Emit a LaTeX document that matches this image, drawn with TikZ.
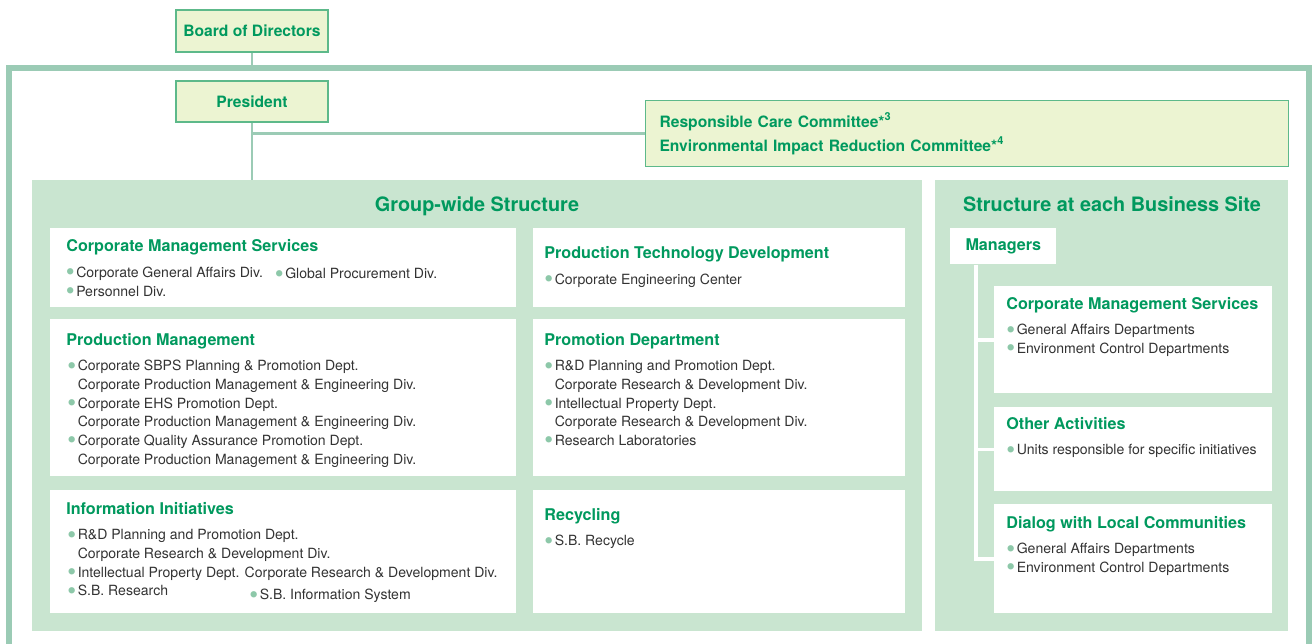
\documentclass[tikz,border=0pt]{standalone}
\usepackage{fontspec}
\setmainfont{TeX Gyre Heros}
\definecolor{framegreen}{HTML}{9BCBB5}
\definecolor{panelgreen}{HTML}{C9E5D0}
\definecolor{paleyellow}{HTML}{ECF4D2}
\definecolor{boxedge}{HTML}{5DB98A}
\definecolor{titlegreen}{HTML}{00995E}
\definecolor{dotgreen}{HTML}{8DC8A9}
\definecolor{bodygray}{HTML}{333333}
\newcommand{\pxu}{0.02cm}
\newcommand{\fstrut}{\rule{0pt}{0.75em}}
\newcommand{\dotmark}{\makebox[0.74em][l]{\smash{\raisebox{-0.23em}{\scalebox{1.8}{\textcolor{dotgreen}{\textbullet}}}}}}
\newcommand{\bl}{\fstrut\dotmark}
\newcommand{\ind}{\fstrut\hspace*{0.74em}}
\begin{document}
\begin{tikzpicture}[
    x=\pxu, y=-\pxu,
    topbox/.style={
        rectangle,
        draw=boxedge,
        fill=paleyellow,
        line width=0.6pt,
        inner sep=0pt,
        font=\bfseries\fontsize{8.9}{13.6}\selectfont,
        text=titlegreen
    },
    panel/.style={rectangle, fill=panelgreen, inner sep=0pt, anchor=north west},
    whitebox/.style={rectangle, fill=white, inner sep=0pt, anchor=north west},
    paneltitle/.style={anchor=base, inner sep=0pt, font=\bfseries\fontsize{11.3}{13}\selectfont, text=titlegreen},
    boxtitle/.style={anchor=base west, inner sep=0pt, font=\bfseries\fontsize{9.2}{11}\selectfont, text=titlegreen},
    bodytext/.style={anchor=north west, inner sep=0pt, align=left, font=\fontsize{8}{10.66}\selectfont, text=bodygray},
    frame/.style={draw=framegreen, line width=3.2pt},
    link/.style={draw=framegreen, line width=1.7pt},
    spine/.style={draw=white, line width=2pt}
]
    \useasboundingbox (0,0) rectangle (1312,644);

    % outer frame
    \coordinate (fbl) at (9,644);
    \coordinate (ftl) at (9,68);
    \coordinate (ftr) at (1309,68);
    \coordinate (fbr) at (1309,644);
    \draw[frame] (fbl) -- (ftl) -- (ftr) -- (fbr);

    % top level
    \node[topbox, minimum width=152*\pxu, minimum height=42*\pxu] (board) at (252,31) {Board of Directors};
    \node[topbox, minimum width=152*\pxu, minimum height=41*\pxu] (pres) at (252,101.5) {President};
    \node[topbox, anchor=north west, minimum width=643*\pxu, minimum height=66*\pxu,
          text width=615*\pxu, align=left] (comm) at (645,100)
        {Responsible Care Committee*\textsuperscript{3}\\
         Environmental Impact Reduction Committee*\textsuperscript{4}};

    % panels
    \node[panel, minimum width=890*\pxu, minimum height=451*\pxu] (group) at (32,180) {};
    \node[panel, minimum width=353*\pxu, minimum height=451*\pxu] (site) at (935,180) {};
    \node[paneltitle] (grouptitle) at (477,211.4) {Group-wide Structure};
    \node[paneltitle] (sitetitle) at (1112,211.4) {Structure at each Business Site};

    % connectors
    \draw[link] (board.south) -- (board.south |- ftl);
    \draw[link] (pres.south) -- (pres.south |- group.north);
    \draw[link] (pres.south |- comm.west) -- (comm.west);

    % group-wide boxes
    \node[whitebox, minimum width=466*\pxu, minimum height=79*\pxu] (cms) at (50,228) {};
    \node[whitebox, minimum width=466*\pxu, minimum height=157*\pxu] (pm) at (50,319) {};
    \node[whitebox, minimum width=466*\pxu, minimum height=123*\pxu] (ii) at (50,490) {};
    \node[whitebox, minimum width=372*\pxu, minimum height=79*\pxu] (ptd) at (533,228) {};
    \node[whitebox, minimum width=372*\pxu, minimum height=157*\pxu] (pd) at (533,319) {};
    \node[whitebox, minimum width=372*\pxu, minimum height=123*\pxu] (rc) at (533,490) {};

    \node[boxtitle] (cmstitle) at (66,251.9) {Corporate Management Services};
    \node[bodytext] (cmsbody) at (65.5,266.6) {\bl Corporate General Affairs Div.\\ \bl Personnel Div.};
    \node[bodytext] (cmsgp) at (274.5,267.9) {\bl Global Procurement Div.};

    \node[boxtitle] (pmtitle) at (66,345.2) {Production Management};
    \node[bodytext] (pmbody) at (67,359.9) {%
        \bl Corporate SBPS Planning \& Promotion Dept.\\
        \ind Corporate Production Management \& Engineering Div.\\
        \bl Corporate EHS Promotion Dept.\\
        \ind Corporate Production Management \& Engineering Div.\\
        \bl Corporate Quality Assurance Promotion Dept.\\
        \ind Corporate Production Management \& Engineering Div.};

    \node[boxtitle] (iititle) at (66,514.5) {Information Initiatives};
    \node[bodytext] (iibody) at (67,528.9) {%
        \bl R\&D Planning and Promotion Dept.\\
        \ind Corporate Research \& Development Div.\\
        \bl Intellectual Property Dept. Corporate Research \& Development Div.\\
        \bl S.B. Research};
    \node[bodytext] (iisbis) at (249,588.9) {\bl S.B. Information System};

    \node[boxtitle] (ptdtitle) at (544,258.5) {Production Technology Development};
    \node[bodytext] (ptdbody) at (544,273.2) {\bl Corporate Engineering Center};

    \node[boxtitle] (pdtitle) at (544,345.2) {Promotion Department};
    \node[bodytext] (pdbody) at (544,359.9) {%
        \bl R\&D Planning and Promotion Dept.\\
        \ind Corporate Research \& Development Div.\\
        \bl Intellectual Property Dept.\\
        \ind Corporate Research \& Development Div.\\
        \bl Research Laboratories};

    \node[boxtitle] (rctitle) at (544,520.2) {Recycling};
    \node[bodytext] (rcbody) at (544,534.9) {\bl S.B. Recycle};

    % business site structure
    \node[whitebox, minimum width=106*\pxu, minimum height=36*\pxu,
          font=\bfseries\fontsize{9.2}{11}\selectfont, text=titlegreen] (mgr) at (950,228) {Managers};
    \node[whitebox, minimum width=278*\pxu, minimum height=107*\pxu] (sb1) at (994,286) {};
    \node[whitebox, minimum width=278*\pxu, minimum height=84*\pxu] (sb2) at (994,407) {};
    \node[whitebox, minimum width=278*\pxu, minimum height=109*\pxu] (sb3) at (994,504) {};

    \coordinate (sp) at ([xshift=26*\pxu]mgr.south west);
    \draw[spine] (sp) |- (sb3.west);
    \draw[spine] (sp |- sb1.west) -- (sb1.west);
    \draw[spine] (sp |- sb2.west) -- (sb2.west);

    \node[boxtitle] (sb1title) at (1006,309.2) {Corporate Management Services};
    \node[bodytext] (sb1body) at (1006,323.9) {\bl General Affairs Departments\\ \bl Environment Control Departments};
    \node[boxtitle] (sb2title) at (1006,429.2) {Other Activities};
    \node[bodytext] (sb2body) at (1006,443.9) {\bl Units responsible for specific initiatives};
    \node[boxtitle] (sb3title) at (1006,528.2) {Dialog with Local Communities};
    \node[bodytext] (sb3body) at (1006,542.9) {\bl General Affairs Departments\\ \bl Environment Control Departments};

\end{tikzpicture}
\end{document}
